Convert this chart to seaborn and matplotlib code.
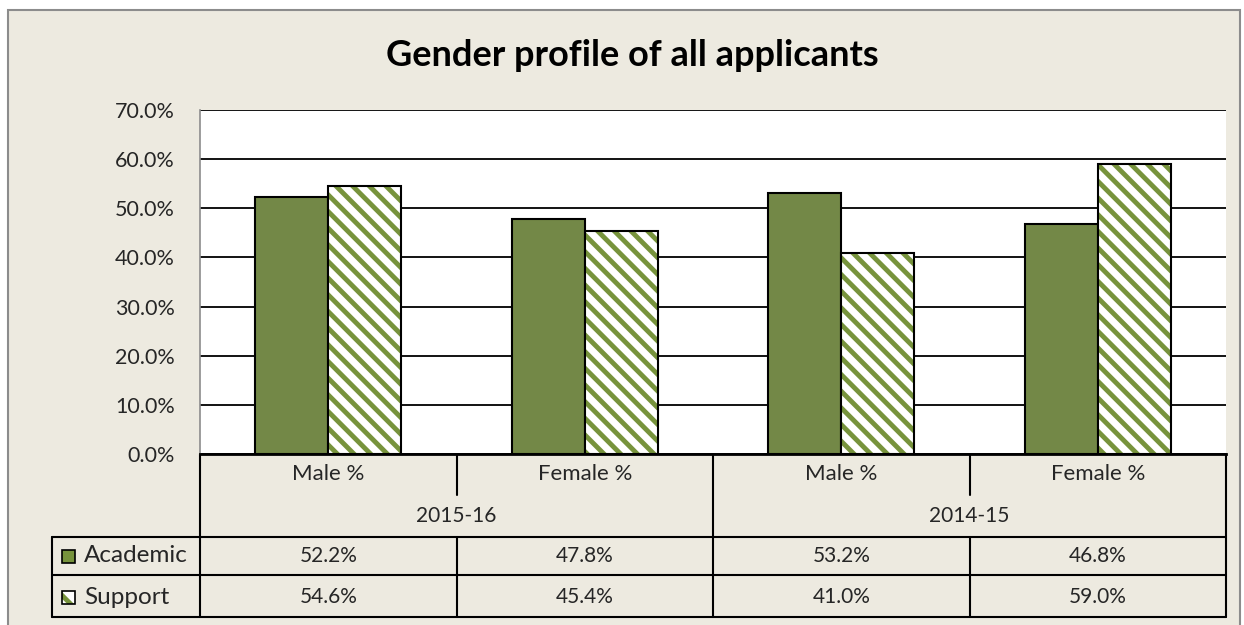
import numpy as np
import pandas as pd
import matplotlib
matplotlib.use("Agg")
import matplotlib.pyplot as plt
from matplotlib.patches import Rectangle
import seaborn as sns

# ─── Data ────────────────────────────────────────────────────────────────────
YEARS      = ["2015-16", "2014-15"]
GENDERS    = ["Male %", "Female %"]
SERIES     = ["Academic", "Support"]
ACADEMIC   = [52.2, 47.8, 53.2, 46.8]
SUPPORT    = [54.6, 45.4, 41.0, 59.0]
Y_TICKS    = [0, 10, 20, 30, 40, 50, 60, 70]

GREEN = "#77933C"
BEIGE = "#EDEAE0"

# ─── Styling ─────────────────────────────────────────────────────────────────
sns.set_style("white")
plt.rcParams["font.family"] = ["Lato", "DejaVu Sans"]
plt.rcParams["hatch.linewidth"] = 3.5

keys = [f"{y}|{g}" for y in YEARS for g in GENDERS]
df = pd.DataFrame({
    "key": keys * 2,
    "series": ["Academic"] * 4 + ["Support"] * 4,
    "value": ACADEMIC + SUPPORT,
})

W, H = 1244, 625
fig = plt.figure(figsize=(W / 100, H / 100), dpi=100, facecolor="white")
fig.patches.append(Rectangle((8 / W, -0.05), 1232 / W, 615 / H + 0.05,
                             transform=fig.transFigure, facecolor=BEIGE,
                             edgecolor="#8C8C8C", lw=1.5, zorder=-5))

# main plot area (pixel box 200..1226 x 110..454)
ax = fig.add_axes([200 / W, 1 - 454 / H, 1026 / W, 344 / H], zorder=1)
ax.set_facecolor("white")

sns.barplot(data=df, x="key", y="value", hue="series", order=keys,
            hue_order=SERIES, palette=[GREEN, "white"], width=0.57,
            edgecolor="black", linewidth=1.5, ax=ax, legend=False)

HATCH = "\\\\"
for p in ax.containers[1]:
    p.set_facecolor("white")
    p.set_edgecolor(GREEN)
    p.set_hatch(HATCH)
    p.set_linewidth(0)
    ax.add_patch(Rectangle(p.get_xy(), p.get_width(), p.get_height(),
                           fill=False, edgecolor="black", lw=1.5, zorder=3))

ax.set_xlim(-0.5, 3.5)
ax.set_ylim(0, 70)
ax.set_yticks(Y_TICKS)
ax.set_yticklabels([f"{v:.1f}%" for v in Y_TICKS], fontsize=15.5)
ax.tick_params(axis="y", length=0, pad=18)
ax.set_xticks([])
ax.set_xlabel("")
ax.set_ylabel("")
ax.yaxis.grid(True, color="black", lw=1.3)
ax.set_axisbelow(True)
for s in ["top", "right"]:
    ax.spines[s].set_visible(False)
ax.spines["left"].set_color("#8C8C8C")
ax.spines["left"].set_linewidth(1.2)
ax.spines["bottom"].set_color("black")
ax.spines["bottom"].set_linewidth(2)

fig.text(632 / W, 1 - 56 / H, "Gender profile of all applicants",
         ha="center", va="center", fontsize=26, fontweight="bold", color="black")

# ─── Data table under the chart (pixel coordinates) ──────────────────────────
tab = fig.add_axes([0, 0, 1, 1], zorder=0)
tab.set_xlim(0, W)
tab.set_ylim(H, 0)
tab.axis("off")
tab.patch.set_alpha(0)


def col_px(x):
    return ax.transData.transform((x, 0))[0]


edges = [col_px(i - 0.5) for i in range(5)]
centers = [col_px(i) for i in range(4)]
y_top, y_cat, y_year, y_ac, y_bot = 454, 495, 537, 575, 617
kw = dict(color="black", lw=1.5)

# outer / row lines
for yy in (y_year, y_ac, y_bot):
    tab.plot([52, edges[-1]], [yy, yy], **kw)
tab.plot([52, 52], [y_year, y_bot], **kw)
for e in (edges[0], edges[2], edges[4]):
    tab.plot([e, e], [y_top, y_bot], **kw)
for e in (edges[1], edges[3]):
    tab.plot([e, e], [y_top, y_cat], **kw)
    tab.plot([e, e], [y_year, y_bot], **kw)

for i, k in enumerate(keys):
    tab.text(centers[i], 474, k.split("|")[1], ha="center", va="center", fontsize=16)
    tab.text(centers[i], 556, f"{ACADEMIC[i]:.1f}%", ha="center", va="center", fontsize=15)
    tab.text(centers[i], 597, f"{SUPPORT[i]:.1f}%", ha="center", va="center", fontsize=15)
for j, yr in enumerate(YEARS):
    tab.text((edges[2 * j] + edges[2 * j + 2]) / 2, 516, yr,
             ha="center", va="center", fontsize=15)

# legend keys inside the table
tab.add_patch(Rectangle((62, 550), 13, 13, facecolor=GREEN, edgecolor="black", lw=1.2))
tab.add_patch(Rectangle((62, 591), 13, 13, facecolor="white", edgecolor=GREEN,
                        hatch="\\", lw=0))
tab.add_patch(Rectangle((62, 591), 13, 13, fill=False, edgecolor="black", lw=1.2))
tab.text(84, 556, "Academic", ha="left", va="center", fontsize=17.5)
tab.text(84, 597, "Support", ha="left", va="center", fontsize=17.5)

fig.savefig("out.png", dpi=100, facecolor="white")
